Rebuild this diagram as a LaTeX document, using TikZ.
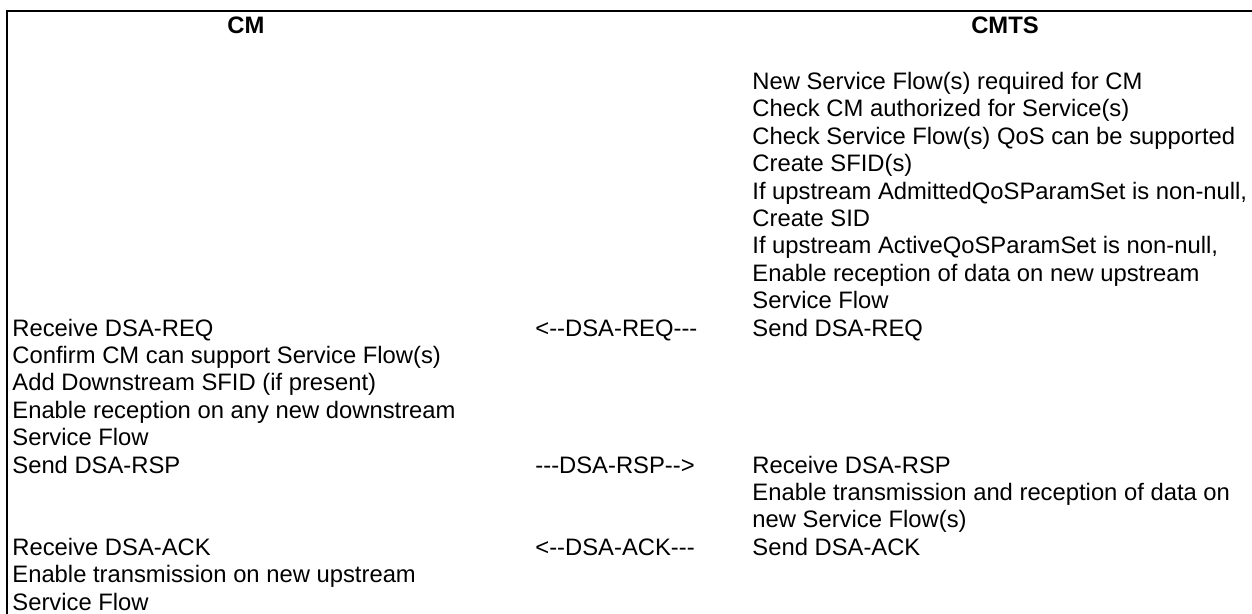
\documentclass[tikz,border=0pt]{standalone}
\usepackage{fontspec}
\setmainfont{Liberation Sans}[Ligatures=TeXOff]
\usetikzlibrary{positioning}
\newcommand{\rowfont}{\fontsize{11.9}{13.75}\selectfont}
\tikzset{
  flowtext/.style={anchor=base west, inner sep=0pt, font=\rowfont},
  headtext/.style={anchor=base, inner sep=0pt, font=\rowfont\bfseries},
  frameline/.style={line width=1pt}
}
\begin{document}
\begin{tikzpicture}[x=0.5pt,y=-0.5pt]
\useasboundingbox (0,0) rectangle (1252,614);
% frame, open on the right and at the bottom
\coordinate (tl) at (7,11);
\coordinate (tr) at (1252,11);
\coordinate (bl) at (7,614);
\draw[frameline] (tr) -- (tl) -- (bl);
% column heads
\node[headtext] (cm) at (246,33.5) {CM};
\node[headtext] (cmts) at (1005,33.5) {CMTS};
% CMTS side
\foreach \txt [count=\i from 0] in {New Service Flow(s) required for CM,
    Check CM authorized for Service(s),
    Check Service Flow(s) QoS can be supported,
    Create SFID(s),
    {If upstream AdmittedQoSParamSet is non-null,},
    Create SID,
    {If upstream ActiveQoSParamSet is non-null,},
    Enable reception of data on new upstream,
    Service Flow,
    Send DSA-REQ}
  \node[flowtext] (cmts\i) at (752,89.5+27.4*\i) {\txt};
\foreach \txt [count=\i from 14] in {Receive DSA-RSP,
    Enable transmission and reception of data on,
    new Service Flow(s),
    Send DSA-ACK}
  \node[flowtext] (cmts\i) at (752,89.5+27.4*\i) {\txt};
% CM side
\foreach \txt [count=\i from 9] in {Receive DSA-REQ,
    Confirm CM can support Service Flow(s),
    Add Downstream SFID (if present),
    Enable reception on any new downstream,
    Service Flow,
    Send DSA-RSP}
  \node[flowtext] (cm\i) at (12,89.5+27.4*\i) {\txt};
\foreach \txt [count=\i from 17] in {Receive DSA-ACK,
    Enable transmission on new upstream,
    Service Flow}
  \node[flowtext] (cm\i) at (12,89.5+27.4*\i) {\txt};
% messages
\node[flowtext] (req) at (535,89.5+27.4*9) {<--DSA-REQ---};
\node[flowtext] (rsp) at (535,89.5+27.4*14) {---DSA-RSP-->};
\node[flowtext] (ack) at (535,89.5+27.4*17) {<--DSA-ACK---};
\end{tikzpicture}
\end{document}
